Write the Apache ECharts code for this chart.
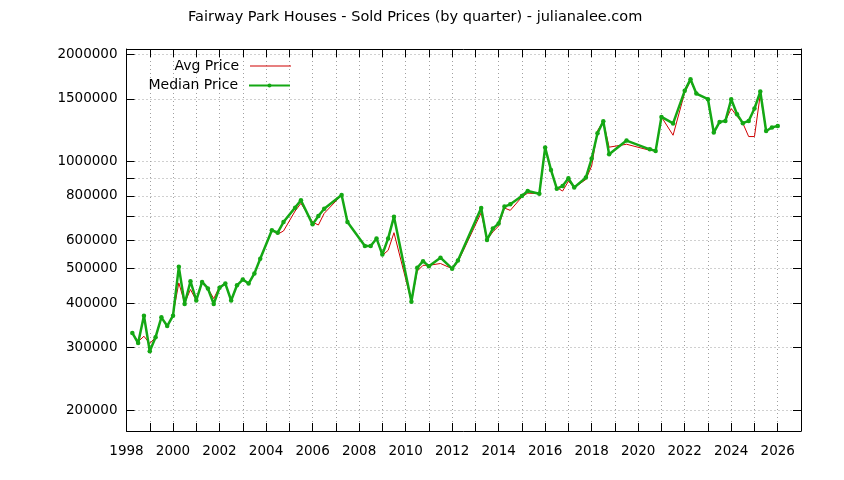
<!DOCTYPE html>
<html>
<head>
<meta charset="utf-8">
<script src="https://cdn.jsdelivr.net/npm/echarts@6/dist/echarts.min.js"></script>
<style>
html,body{margin:0;padding:0;background:#fff;}
#chart{width:844px;height:480px;}
</style>
</head>
<body>
<div id="chart"></div>
<script>
// quarter positions (decimal year) and prices
var quarterX=[
    1998.25,1998.5,1998.75,1999.0,1999.25,1999.5,1999.75,2000.0,
    2000.25,2000.5,2000.75,2001.0,2001.25,2001.5,2001.75,2002.0,
    2002.25,2002.5,2002.75,2003.0,2003.25,2003.5,2003.75,
    2004.25,2004.5,2004.75,2005.25,2005.5,2006.0,2006.25,2006.5,
    2007.25,2007.5,2008.25,2008.5,2008.75,2009.0,2009.25,2009.5,
    2010.25,2010.5,2010.75,2011.0,2011.5,2012.0,2012.25,
    2013.25,2013.5,2013.75,2014.0,2014.25,2014.5,2015.0,2015.25,2015.75,
    2016.0,2016.25,2016.5,2016.75,2017.0,2017.25,2017.75,
    2018.0,2018.25,2018.5,2018.75,2019.5,2020.5,2020.75,2021.0,2021.5,
    2022.0,2022.25,2022.5,2023.0,2023.25,2023.5,2023.75,
    2024.0,2024.25,2024.5,2024.75,2025.0,2025.25,2025.5,2025.75,2026.0
];
var medianPrice=[
    330000,309000,369000,293000,321000,365000,345000,369000,
    506000,398000,461000,407000,459000,440000,398000,442000,
    454000,407000,449000,466000,454000,485000,533000,
    641000,631000,676000,742000,778000,666000,703000,737000,
    805000,676000,579000,579000,608000,548000,608000,700000,
    404000,503000,525000,508000,537000,500000,527000,
    740000,602000,648000,670000,747000,758000,800000,826000,812000,
    1094000,947000,839000,853000,897000,845000,901000,
    1019000,1200000,1298000,1048000,1145000,1082000,1071000,1334000,1279000,
    1579000,1703000,1552000,1496000,1206000,1292000,1300000,
    1496000,1358000,1281000,1300000,1409000,1572000,1218000,1246000,1259000
];
var avgPrice=[
    330000,312000,323000,308000,321000,365000,345000,372000,
    456000,400000,437000,407000,459000,440000,412000,445000,
    455000,407000,449000,466000,454000,485000,533000,
    641000,625000,638000,726000,763000,676000,663000,715000,
    805000,676000,579000,579000,608000,545000,563000,631000,
    404000,492000,511000,511000,517000,500000,522000,
    718000,603000,634000,659000,740000,729000,795000,815000,812000,
    1094000,940000,845000,826000,880000,845000,890000,
    972000,1220000,1298000,1097000,1118000,1075000,1071000,1334000,1185000,
    1562000,1685000,1552000,1496000,1206000,1292000,1300000,
    1409000,1340000,1281000,1175000,1175000,1545000,1218000,1246000,1259000
];
// y-axis ticks (log scale), labelled subset
var yTicks=[200000,300000,400000,500000,600000,700000,800000,900000,1000000,1500000,2000000];
var yLabels=[200000,300000,400000,500000,600000,800000,1000000,1500000,2000000];
var yMin=175000, yMax=2070000;

var chart=echarts.init(document.getElementById('chart'));

function pairs(ys){
    return quarterX.map(function(x,i){return [x,ys[i]];});
}
function lg(v){return Math.log(v)/Math.LN10;}

var font='DejaVu Sans';
var gridLine={show:true,lineStyle:{color:'#a0a0a0',width:1,type:[1,3]}};

var option={
    animation:false,
    textStyle:{fontFamily:font},
    title:{
        text:'Fairway Park Houses - Sold Prices (by quarter) - julianalee.com',
        left:188,
        top:10,
        padding:0,
        textStyle:{fontFamily:font,fontSize:14.5,fontWeight:'normal',color:'#000'}
    },
    legend:[
        {
            data:[{name:'Avg Price',icon:'rect'}],
            right:553, top:59, padding:0,
            align:'right',
            itemWidth:41, itemHeight:1,
            textStyle:{fontFamily:font,fontSize:14,color:'#000',padding:[0,6,0,0]}
        },
        {
            data:['Median Price'],
            right:553, top:78.5, padding:0,
            align:'right',
            itemWidth:41, itemHeight:5,
            textStyle:{fontFamily:font,fontSize:14,color:'#000',padding:[0,6,0,0]}
        }
    ],
    grid:{left:126.5,right:43,top:49,bottom:49,containLabel:false,outerBoundsMode:'none'},
    xAxis:[
        {
            type:'value', position:'bottom',
            min:1998, max:2027, interval:1,
            axisLine:{show:true,lineStyle:{color:'#000',width:1}},
            axisTick:{show:true,inside:true,length:8,lineStyle:{color:'#000'}},
            axisLabel:{
                margin:13, color:'#000', fontFamily:font, fontSize:13.5,
                formatter:function(v){return v%2===0?String(v):'';}
            },
            splitLine:gridLine
        },
        {
            type:'value', position:'top',
            min:1998, max:2027, interval:1,
            axisLine:{show:true,lineStyle:{color:'#000',width:1}},
            axisTick:{show:true,inside:true,length:8,lineStyle:{color:'#000'}},
            axisLabel:{show:false},
            splitLine:{show:false}
        }
    ],
    yAxis:[
        {
            type:'log', logBase:10, min:yMin, max:yMax,
            show:false, position:'left'
        },
        {
            type:'value', position:'left',
            min:lg(yMin), max:lg(yMax),
            axisLine:{show:true,onZero:false,lineStyle:{color:'#000',width:1}},
            axisTick:{show:true,inside:true,length:8,lineStyle:{color:'#000'},customValues:yTicks.map(lg)},
            axisLabel:{
                margin:9, color:'#000', fontFamily:font, fontSize:13.5,
                customValues:yLabels.map(lg),
                formatter:function(v){return String(Math.round(Math.pow(10,v)/1000)*1000);}
            },
            splitLine:gridLine
        },
        {
            type:'value', position:'right',
            min:lg(yMin), max:lg(yMax),
            axisLine:{show:true,onZero:false,lineStyle:{color:'#000',width:1}},
            axisTick:{show:true,inside:true,length:8,lineStyle:{color:'#000'},customValues:yTicks.map(lg)},
            axisLabel:{show:false},
            splitLine:{show:false}
        }
    ],
    series:[
        {
            name:'Avg Price',
            type:'line',
            xAxisIndex:0, yAxisIndex:0,
            data:pairs(avgPrice),
            symbol:'none',
            color:'#d00000',
            lineStyle:{color:'#d00000',width:1},
            z:2
        },
        {
            name:'Median Price',
            type:'line',
            xAxisIndex:0, yAxisIndex:0,
            data:pairs(medianPrice),
            symbol:'circle', symbolSize:4.5, showSymbol:true,
            color:'#14a814',
            itemStyle:{color:'#14a814'},
            lineStyle:{color:'#14a814',width:2.5},
            z:3
        }
    ]
};

chart.setOption(option);
</script>
</body>
</html>
